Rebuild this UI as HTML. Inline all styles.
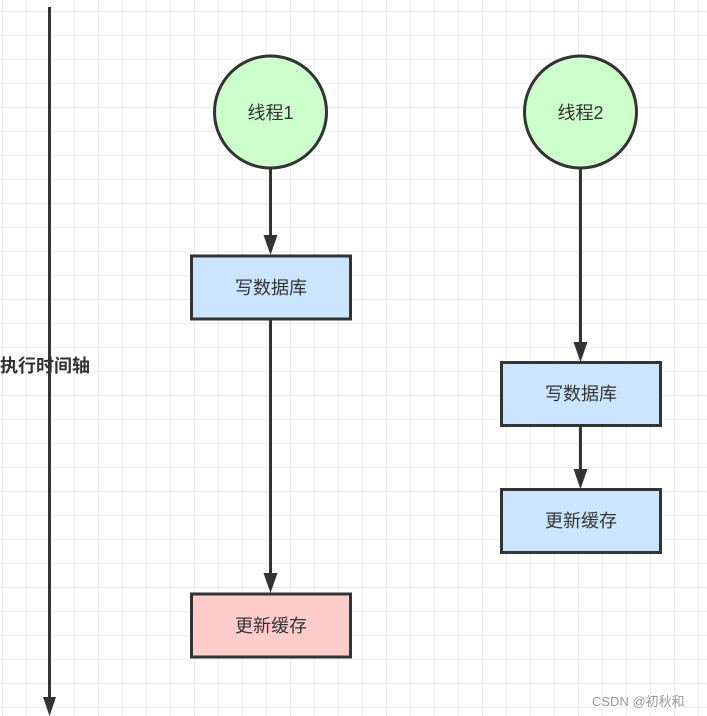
<!DOCTYPE html>
<html><head><meta charset="utf-8"><style>
html,body{margin:0;padding:0;background:#fff;}
svg{display:block;}
text{font-family:"Liberation Sans","Noto Sans CJK SC",sans-serif;}
</style></head><body>
<svg width="707" height="716" viewBox="0 0 707 716" xmlns="http://www.w3.org/2000/svg">
<defs>
<pattern id="g" x="2" y="11" width="24" height="24" patternUnits="userSpaceOnUse">
<path d="M0.5 0V24M0 0.5H24" stroke="#efefef" stroke-width="1.2" fill="none"/>
</pattern>
<pattern id="G" x="2" y="11" width="96" height="96" patternUnits="userSpaceOnUse">
<path d="M0.5 0V96M0 0.5H96" stroke="#e6e6e6" stroke-width="1.5" fill="none"/>
</pattern>
</defs>
<rect width="707" height="716" fill="url(#g)"/>
<rect width="707" height="716" fill="url(#G)" opacity="0.6"/>
<g stroke="#333" stroke-width="3" fill="none">
<line x1="49.5" y1="7" x2="49.5" y2="700"/>
<line x1="270.5" y1="168" x2="270.5" y2="240"/>
<line x1="270.5" y1="319" x2="270.5" y2="578"/>
<line x1="580.5" y1="168" x2="580.5" y2="347"/>
<line x1="580.5" y1="425" x2="580.5" y2="474"/>
</g>
<g fill="#333">
<polygon points="43,697 56,697 49.5,716"/>
<polygon points="263.5,235 277.5,235 270.5,255"/>
<polygon points="263.5,573 277.5,573 270.5,593"/>
<polygon points="573.5,342 587.5,342 580.5,362"/>
<polygon points="573.5,469 587.5,469 580.5,489"/>
</g>
<g stroke="#333" stroke-width="3">
<circle cx="270.5" cy="112" r="56" fill="#ccffcc"/>
<circle cx="580.5" cy="112" r="56" fill="#ccffcc"/>
<rect x="191.5" y="256" width="159" height="63" fill="#cce5ff"/>
<rect x="501.5" y="362.5" width="159" height="63" fill="#cce5ff"/>
<rect x="501.5" y="489.5" width="159" height="63" fill="#cce5ff"/>
<rect x="191.5" y="594" width="159" height="63" fill="#ffcccc"/>
</g>
<g fill="#333" font-size="18" text-anchor="middle">
<text x="270.5" y="119">线程1</text>
<text x="580.5" y="119">线程2</text>
<text x="271" y="294">写数据库</text>
<text x="581" y="400">写数据库</text>
<text x="581" y="527">更新缓存</text>
<text x="271" y="632">更新缓存</text>
</g>
<text x="0" y="372" font-size="18" font-weight="bold" fill="#333">执行时间轴</text>
<text x="592" y="706" font-size="13" fill="#999">CSDN @初秋和</text>
</svg>
</body></html>
